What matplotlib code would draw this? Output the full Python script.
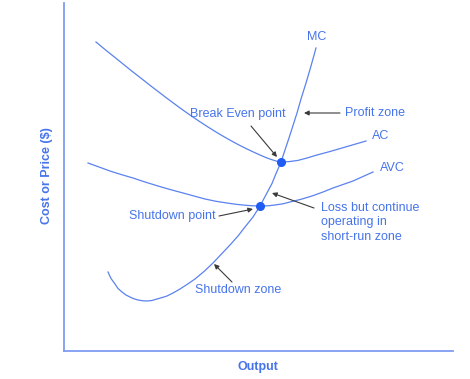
import matplotlib
matplotlib.use("Agg")
import matplotlib.pyplot as plt

plt.rcParams['font.family'] = ['Liberation Sans', 'DejaVu Sans']

# curve points (x = output, y = cost; image-style coords, y down)
ac_x = [96, 105, 115, 124, 133, 142, 150, 159, 167, 176, 184, 192, 200, 208, 217, 225, 233,
        240, 247, 254, 260, 266, 271, 276, 281, 289, 298, 307, 317, 330, 342, 354, 366]
ac_y = [42, 49.5, 57.5, 64.8, 72, 79, 85.3, 92.2, 98.3, 105, 110.8, 116.4, 121.8, 127, 132.6, 137.3, 141.8,
        145.5, 149, 152.3, 155, 157.6, 159.4, 161, 162, 161.6, 160.4, 158, 155, 151.5, 148, 144.5, 141]

avc_x = [88, 99, 110, 121, 133, 145, 158, 170, 183, 194, 205, 216, 227, 236, 245, 253, 260,
         268, 275, 283, 290, 301, 312, 323, 333, 343, 353, 363, 373]
avc_y = [163, 167, 171, 174.5, 178, 182, 186, 189.5, 193, 196, 199, 201.3, 203, 204.3, 205.2, 205.8, 206,
         205.8, 205, 203.8, 202, 199.3, 196, 192, 188, 184.5, 181, 176.5, 172]

mc_x = [108, 111, 115, 118, 122, 126, 130, 134, 138, 143, 147, 152, 157, 162, 167, 173, 180,
        187, 195, 204, 213, 221, 230, 238, 245, 253, 260, 264, 268, 272, 275, 278, 281,
        285, 289, 293, 297, 301, 306, 311, 316]
mc_y = [272, 278.5, 284, 288.5, 292, 295, 297, 298.8, 300, 300.8, 301, 300.5, 299, 297.6, 296, 293, 289,
        284.5, 279, 271.5, 263, 254.5, 245, 236, 227, 217, 206, 198.5, 191, 183.5, 176, 169, 162,
        150, 138, 125.5, 113, 99, 83, 66, 48]

be_pt = (281, 162)
sd_pt = (260, 206)

curve_col = '#5b82ee'
text_col = '#4674ea'
dot_col = '#1f5cf5'
axis_col = '#7e9cf0'

fig = plt.figure(figsize=(4.7, 3.79), dpi=100)
ax = fig.add_axes([0, 0, 1, 1])
ax.set_xlim(0, 470)
ax.set_ylim(379, 0)
ax.axis('off')

# axes lines
ax.plot([64, 64], [3, 351], color=axis_col, lw=1.3)
ax.plot([64, 453], [351, 351], color=axis_col, lw=1.3)

ax.plot(ac_x, ac_y, color=curve_col, lw=0.9)
ax.plot(avc_x, avc_y, color=curve_col, lw=0.9)
ax.plot(mc_x, mc_y, color=curve_col, lw=0.9)

ax.plot(*be_pt, 'o', color=dot_col, ms=5.5)
ax.plot(*sd_pt, 'o', color=dot_col, ms=5.5)

fs = 9
ax.text(317, 37, 'MC', color=text_col, fontsize=fs, ha='center', va='center')
ax.text(238, 114, 'Break Even point', color=text_col, fontsize=fs, ha='center', va='center')
ax.text(345, 113, 'Profit zone', color=text_col, fontsize=fs, ha='left', va='center')
ax.text(372, 136, 'AC', color=text_col, fontsize=fs, ha='left', va='center')
ax.text(380, 168, 'AVC', color=text_col, fontsize=fs, ha='left', va='center')
ax.text(216, 216, 'Shutdown point', color=text_col, fontsize=fs, ha='right', va='center')
ax.text(321, 202, 'Loss but continue\noperating in\nshort-run zone', color=text_col,
        fontsize=fs, ha='left', va='top', linespacing=1.25)
ax.text(195, 290, 'Shutdown zone', color=text_col, fontsize=fs, ha='left', va='center')

arrow = dict(arrowstyle='-|>', color='#3a3a3a', lw=0.8, mutation_scale=7, shrinkA=0, shrinkB=0)
ax.annotate('', xy=(277, 157), xytext=(251, 126), arrowprops=arrow)
ax.annotate('', xy=(304, 113), xytext=(340, 113), arrowprops=arrow)
ax.annotate('', xy=(253, 209), xytext=(219, 216), arrowprops=arrow)
ax.annotate('', xy=(272, 193), xytext=(314, 208), arrowprops=arrow)
ax.annotate('', xy=(214, 264), xytext=(232, 282), arrowprops=arrow)

ax.text(47, 176, 'Cost or Price ($)', color=text_col, fontsize=9, fontweight='bold',
        rotation=90, ha='center', va='center')
ax.text(258, 367, 'Output', color=text_col, fontsize=9, fontweight='bold',
        ha='center', va='center')

fig.savefig('out.png', dpi=100)
